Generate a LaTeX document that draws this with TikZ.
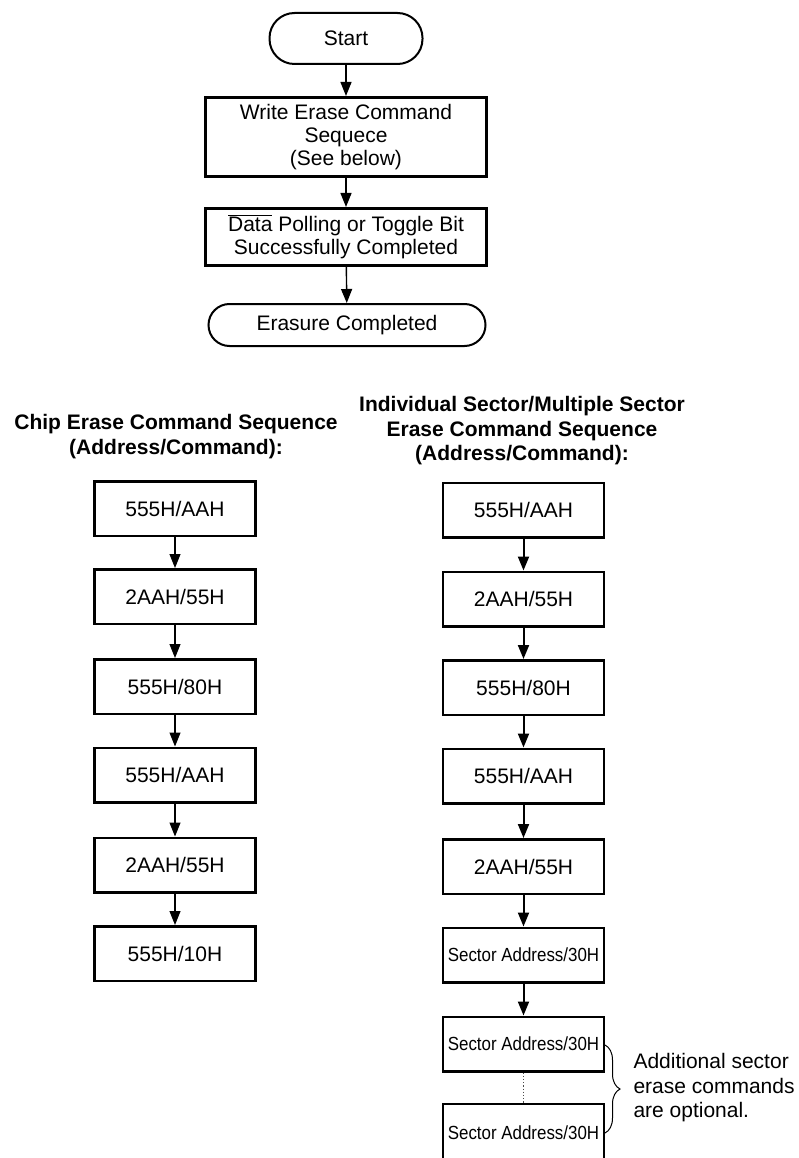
\documentclass[tikz,border=0pt]{standalone}
\usepackage{fontspec}
\setmainfont{Liberation Sans}
\usepackage{graphicx}
\usetikzlibrary{arrows.meta,decorations.pathreplacing}
\newcommand{\sectext}[1]{{\fontsize{19}{21}\selectfont\scalebox{0.89}[1]{#1}}}
\begin{document}
\begin{tikzpicture}[x=1pt,y=-1pt,
  txt/.style={font=\fontsize{21}{23}\selectfont, align=center},
  bigbox/.style={draw, line width=2.6pt, rectangle, inner sep=0pt, txt, minimum width=281pt},
  term/.style={draw, line width=2pt, rectangle, inner sep=0pt, txt},
  cmdbox/.style={draw, line width=2.5pt, rectangle, inner sep=0pt, txt, minimum width=161pt, minimum height=54.5pt},
  head/.style={font=\fontsize{21}{24.5}\selectfont\bfseries, align=center},
  toparrow/.style={line width=1.4pt, -{Triangle[length=14pt,width=11pt]}},
  chiparrow/.style={line width=1.1pt, -{Triangle[length=14pt,width=11pt]}},
  secarrow/.style={line width=2pt, -{Triangle[length=14pt,width=11pt]}}
]
\clip (0,0) rectangle (798,1158);
\fill[white] (0,0) rectangle (798,1158);

% top flow
\node[term, minimum width=153pt, minimum height=51pt, rounded corners=25pt] (start) at (346,38.5) {Start};
\node[bigbox, minimum height=79.5pt] (write) at (346,137) {Write Erase Command\\Sequece\\(See below)};
\node[bigbox, minimum height=57.5pt] (poll) at (346,237) {$\overline{\mbox{Data}}$ Polling or Toggle Bit\\Successfully Completed};
\node[term, minimum width=277pt, minimum height=42pt, rounded corners=21pt] (done) at (347,325) {Erasure Completed};
\draw[toparrow] (start) -- (write);
\draw[toparrow] (write) -- (poll);
\draw[toparrow] (poll) -- (done);

% chip erase
\node[head] (chiphead) at (176,436.5) {Chip Erase Command Sequence\\(Address/Command):};
\node[cmdbox] (c1) at (175,508.5) {555H/AAH};
\node[cmdbox] (c2) at (175,596.5) {2AAH/55H};
\node[cmdbox] (c3) at (175,686.5) {555H/80H};
\node[cmdbox] (c4) at (175,775) {555H/AAH};
\node[cmdbox] (c5) at (175,865) {2AAH/55H};
\node[cmdbox] (c6) at (175,953.5) {555H/10H};
\draw[chiparrow] (c1) -- (c2);
\draw[chiparrow] (c2) -- (c3);
\draw[chiparrow] (c3) -- (c4);
\draw[chiparrow] (c4) -- (c5);
\draw[chiparrow] (c5) -- (c6);

% sector erase
\node[head] (sechead) at (522,431) {Individual Sector/Multiple Sector\\Erase Command Sequence\\(Address/Command):};
\node[cmdbox] (s1) at (523.5,510) {555H/AAH};
\node[cmdbox] (s2) at (523.5,599) {2AAH/55H};
\node[cmdbox] (s3) at (523.5,687.5) {555H/80H};
\node[cmdbox] (s4) at (523.5,776) {555H/AAH};
\node[cmdbox] (s5) at (523.5,866.5) {2AAH/55H};
\node[cmdbox] (s6) at (523.5,955) {\sectext{Sector Address/30H}};
\node[cmdbox] (s7) at (523.5,1044) {\sectext{Sector Address/30H}};
\node[cmdbox, minimum height=57pt] (s8) at (523.5,1132.5) {\sectext{Sector Address/30H}};
\draw[secarrow] (s1) -- (s2);
\draw[secarrow] (s2) -- (s3);
\draw[secarrow] (s3) -- (s4);
\draw[secarrow] (s4) -- (s5);
\draw[secarrow] (s5) -- (s6);
\draw[secarrow] (s6) -- (s7);
\draw[dotted, line width=1.2pt, black!70] (s7) -- (s8);

% brace
\coordinate (btop) at (605,1045);
\coordinate (bbot) at (605,1133);
\draw[line width=1pt, decorate, decoration={brace, amplitude=15pt}] (btop) -- (bbot);
\node[font=\fontsize{21}{24.5}\selectfont, align=left, anchor=west] (note) at (630,1088) {Additional sector\\erase commands\\are optional.};
\end{tikzpicture}
\end{document}
